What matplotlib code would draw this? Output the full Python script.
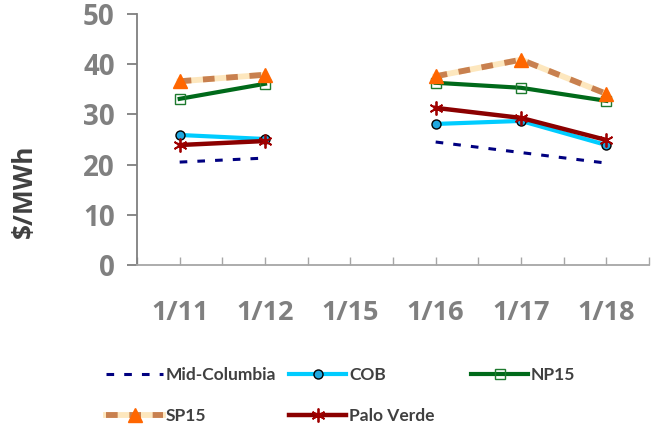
import numpy as np
import matplotlib
matplotlib.use('Agg')
import matplotlib.pyplot as plt
from matplotlib.legend_handler import HandlerTuple

plt.rcParams['font.family'] = ['Open Sans', 'DejaVu Sans']

# data (no trading on 1/15)
dates = ['1/11', '1/12', '1/15', '1/16', '1/17', '1/18']
mid_columbia = [20.5, 21.3, np.nan, 24.5, 22.4, 20.3]
cob = [25.9, 25.1, np.nan, 28.1, 28.7, 23.9]
np15 = [33.1, 36.1, np.nan, 36.3, 35.3, 32.7]
sp15 = [36.6, 37.9, np.nan, 37.6, 40.9, 34.1]
palo_verde = [23.9, 24.7, np.nan, 31.3, 29.3, 24.9]

x = np.arange(len(dates))

fig = plt.figure(figsize=(6.57, 4.28), dpi=100)
ax = fig.add_axes([137 / 657, 1 - 265 / 428, 512 / 657, 251 / 428])

l_mid, = ax.plot(x, mid_columbia, color='#000080', lw=2.2, dashes=(2.5, 3.3),
                 label='Mid-Columbia')
l_cob, = ax.plot(x, cob, color='#00CCFF', lw=3.0, marker='o', ms=6.5,
                 mfc='#1FA8E0', mec='black', mew=1.0, label='COB')
l_np, = ax.plot(x, np15, color='#006A1A', lw=3.0, marker='s', ms=6.5,
                mfc='none', mec='#1E7A2E', mew=1.0, label='NP15')
l_sp_base, = ax.plot(x, sp15, color='#FDE7BE', lw=4.2)
l_sp, = ax.plot(x, sp15, color='#C8804F', lw=4.2, dashes=(2.0, 2.0),
                marker='^', ms=10, mfc='#FF6600', mec='#FF6600', label='SP15')
l_pv, = ax.plot(x, palo_verde, color='#8B0000', lw=3.2, marker=(6, 2, 0), ms=10,
                mec='#A00000', mew=1.3, label='Palo Verde')

ax.set_xlim(-0.5, len(dates) - 0.5)
ax.set_ylim(0, 50)
ax.set_yticks(np.arange(0, 51, 10))
ax.set_xticks(x)
ax.set_xticks(np.arange(-0.5, len(dates), 1.0), minor=True)
ax.set_xticklabels(dates)

for s in ['top', 'right']:
    ax.spines[s].set_visible(False)
ax.spines['left'].set_color('#7F7F7F')
ax.spines['left'].set_linewidth(1.3)
ax.spines['bottom'].set_color('#A6A6A6')
ax.spines['bottom'].set_linewidth(1.3)

ax.tick_params(axis='y', direction='out', length=7, width=1.3, color='#7F7F7F',
               pad=9, labelsize=20, labelcolor='#808080')
ax.tick_params(axis='x', which='both', direction='in', length=6, width=1.0,
               color='#A6A6A6', pad=25, labelsize=19.5, labelcolor='#808080')
for lab in ax.get_xticklabels() + ax.get_yticklabels():
    lab.set_fontweight('bold')

ax.set_ylabel('$/MWh', fontsize=19, fontweight='bold', color='#404040')
ax.yaxis.set_label_coords(-0.193, 0.295)

leg_kw = dict(loc='upper left', frameon=False, borderpad=0, borderaxespad=0,
              handlelength=3.3, handletextpad=0.15, labelspacing=1.45,
              prop={'family': ['Lato', 'DejaVu Sans'], 'size': 12.5, 'weight': 'bold'},
              labelcolor='#404040',
              handler_map={tuple: HandlerTuple(ndivide=1)})
fig.legend([l_mid, (l_sp_base, l_sp)], ['Mid-Columbia', 'SP15'],
           bbox_to_anchor=(106 / 657, 1 - 367 / 428), **leg_kw)
fig.legend([l_cob, l_pv], ['COB', 'Palo Verde'],
           bbox_to_anchor=(289 / 657, 1 - 367 / 428), **leg_kw)
fig.legend([l_np], ['NP15'],
           bbox_to_anchor=(471 / 657, 1 - 367 / 428), **leg_kw)

fig.savefig('out.png', dpi=100)
